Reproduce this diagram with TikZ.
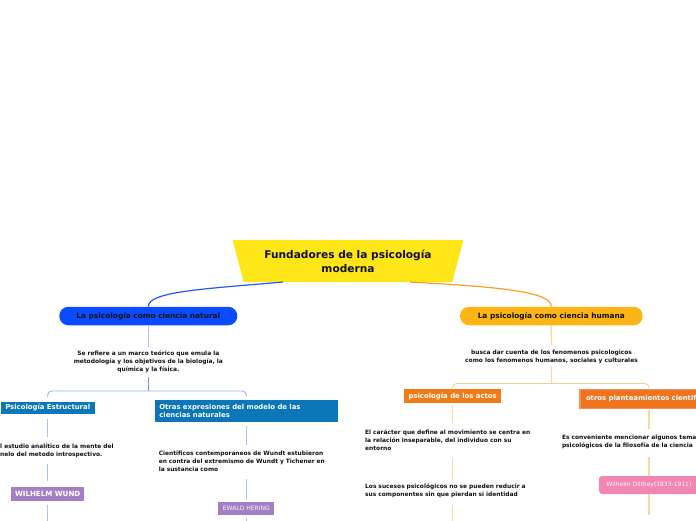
\documentclass[tikz,border=0pt]{standalone}
\usepackage{fontspec}
\setmainfont{DejaVu Sans}
\usetikzlibrary{shapes.geometric, calc}

\definecolor{titleyellow}{HTML}{FFE619}
\definecolor{natblue}{HTML}{0A4BFF}
\definecolor{humorange}{HTML}{FDB515}
\definecolor{steelbox}{HTML}{0B76B8}
\definecolor{actorange}{HTML}{EF7B18}
\definecolor{otherorange}{HTML}{EE7420}
\definecolor{otherborder}{HTML}{F39152}
\definecolor{lilac}{HTML}{A57FC5}
\definecolor{pinkbox}{HTML}{F286B2}
\definecolor{bluecurve}{HTML}{2256FF}
\definecolor{orangecurve}{HTML}{FF9A22}
\definecolor{paleblue}{HTML}{ABC1FF}
\definecolor{midblue}{HTML}{7492FF}
\definecolor{bracketblue}{HTML}{93AEFF}
\definecolor{paleorange}{HTML}{FCD6A2}
\definecolor{bracketorange}{HTML}{F8CC96}
\definecolor{inktext}{HTML}{111111}

\begin{document}
\begin{tikzpicture}[x=1pt, y=-1pt,
pill/.style={
    rounded corners=9pt,
    minimum height=18.5pt,
    inner sep=0pt,
    text=inktext,
    font=\fontsize{7.4}{9}\selectfont\bfseries
},
box/.style={
    fill=steelbox,
    text=white,
    inner xsep=4.5pt,
    inner ysep=0pt,
    minimum height=12pt,
    font=\fontsize{6.9}{8.3}\selectfont\bfseries
},
note/.style={
    anchor=north,
    inner sep=0pt,
    text=inktext,
    font=\fontsize{5.9}{8}\selectfont\bfseries
},
person/.style={fill=lilac, text=white, inner xsep=4pt, inner ysep=0pt},
link/.style={line width=1.3pt},
bracket/.style={line width=0.9pt, rounded corners=4pt}
]

\clip (0,0) rectangle (696,520);

% Central title
\node[trapezium, trapezium angle=68.5, shape border rotate=180,
    trapezium stretches=true, minimum width=231pt, minimum height=42pt,
    fill=titleyellow, inner sep=0pt, align=center, text=inktext,
    font=\fontsize{10.6}{14}\selectfont\bfseries] (title) at (348,261)
    {Fundadores de la psicología\\moderna};

% Main branches
\node[pill, fill=natblue, minimum width=178pt] (natural) at (148.3,316) {La psicología como ciencia natural};
\node[pill, fill=humorange, minimum width=182.7pt] (humana) at (551.3,316) {La psicología como ciencia humana};

\node[note, align=center] (natxt) at (148.3,350.3) {Se refiere a un marco teórico que emula la\\metodología y los objetivos de la biología, la\\química y la física.};
\node[note, align=center] (humtxt) at (551.5,350.3) {busca dar cuenta de los fenomenos psicologicos\\como los fenomenos humanos, sociales y culturales};

\coordinate (nsplit) at (148.3,391);
\coordinate (hsplit) at (551.5,383.5);

% Natural side
\node[box, minimum width=93.3pt] (estruct) at (47.7,407.5) {Psicología Estructural};
\node[box, align=left, text width=174pt, minimum height=22.3pt] (otras) at (246.3,411.2) {Otras expresiones del modelo de las\\ciencias naturales};

\node[note, anchor=north west, align=left] (estxt) at (0,444) {l estudio analítico de la mente del\\nelo del metodo introspectivo.};
\node[person, minimum width=73.3pt, minimum height=14pt, font=\fontsize{7.1}{8}\selectfont\bfseries] (wwund) at (47.7,493.7) {WILHELM WUND};

\node[note, align=left, text width=175pt] (ciencont) at (246.3,451) {Cientificos contemporaneos de Wundt estubieron\\en contra del extremismo de Wundt y Tichener en\\la sustancia como};
\node[person, text=white!92!lilac, minimum width=56pt, minimum height=12.7pt, font=\fontsize{6}{7}\selectfont] (ehering) at (246.3,508.7) {EWALD HERING};

% Human side
\node[box, fill=actorange, minimum width=96.7pt, minimum height=14pt] (actos) at (452.7,396.3) {psicología de los actos};
\node[box, fill=otherorange, draw=otherborder, line width=1.5pt, align=left, text width=126pt, inner xsep=6pt, minimum height=19pt] (otrosp) at (649,399) {otros planteamientos cientif};

\node[note, align=left, text width=175pt] (caracter) at (452.7,429.7) {El carácter que define al movimiento se centra en\\la relación inseparable, del individuo con su\\entorno};
\node[note, align=left, text width=175pt] (sucesos) at (452.7,483.7) {Los sucesos psicológicos no se pueden reducir a\\sus componentes sin que pierdan si identidad};

\node[note, align=left, text width=174pt] (conveniente) at (649,435.3) {Es conveniente mencionar algunos tema\\psicológicos de la filosofía de la ciencia};
\node[fill=pinkbox, rounded corners=3pt, text=white!94!pinkbox, inner sep=0pt, minimum width=100pt, minimum height=18pt, font=\fontsize{6}{7}\selectfont] (dilthey) at (649,485) {Wilhelm Dilthey(1833-1911)};

\coordinate (wwundend) at (47.7,525);
\coordinate (heringend) at (246.3,525);
\coordinate (sucesosend) at (452.7,525);
\coordinate (diltheyend) at (649,515);

% Curves from the title
\draw[bluecurve, line width=1.2pt] ($(title.center)+(-65,21)$) .. controls +(-80,7) and +(0,-15) .. (natural.north);
\draw[orangecurve, line width=1.2pt] ($(title.center)+(62,21)$) .. controls +(90,5) and +(0,-15) .. (humana.north);

% Connectors, natural side
\draw[link, paleblue, shorten >=3.6pt] (natural.south) -- (natxt.north);
\draw[link, midblue, shorten <=4.8pt] (natxt.south) -- (nsplit);
\draw[bracket, bracketblue, shorten >=4pt] (nsplit) -| (estruct.north);
\draw[bracket, bracketblue, shorten >=4pt] (nsplit) -| (otras.north);
\draw[link, paleblue, shorten <=5pt, shorten >=7.3pt] (estruct.south) -- (estruct.south |- estxt.north);
\draw[link, paleblue, shorten <=6pt, shorten >=6pt] (wwund.north |- estxt.south) -- (wwund.north);
\draw[link, paleblue, shorten <=3.6pt] (wwund.south) -- (wwundend);
\draw[link, paleblue, shorten <=3.7pt, shorten >=6pt] (otras.south) -- (ciencont.north);
\draw[link, paleblue, shorten <=7pt, shorten >=2.3pt] (ciencont.south) -- (ehering.north);
\draw[link, paleblue, shorten <=3pt] (ehering.south) -- (heringend);

% Connectors, human side
\draw[link, paleorange, shorten >=5.3pt] (humana.south) -- (humtxt.north);
\draw[link, paleorange, shorten <=2pt] (humtxt.south) -- (hsplit);
\draw[bracket, bracketorange, shorten >=2pt] (hsplit) -| (actos.north);
\draw[bracket, bracketorange, shorten >=2pt] (hsplit) -| (otrosp.north);
\draw[link, paleorange, shorten <=1.7pt, shorten >=6.8pt] (actos.south) -- (caracter.north);
\draw[link, paleorange, shorten <=7.4pt, shorten >=4.4pt] (caracter.south) -- (sucesos.north);
\draw[link, paleorange, shorten <=7.4pt] (sucesos.south) -- (sucesosend);
\draw[link, paleorange, shorten <=1pt, shorten >=6pt] (otrosp.south) -- (conveniente.north);
\draw[link, paleorange, shorten <=8pt] (conveniente.south) -- (dilthey.north);
\draw[link, paleorange] (dilthey.south) -- (diltheyend);

\end{tikzpicture}
\end{document}
